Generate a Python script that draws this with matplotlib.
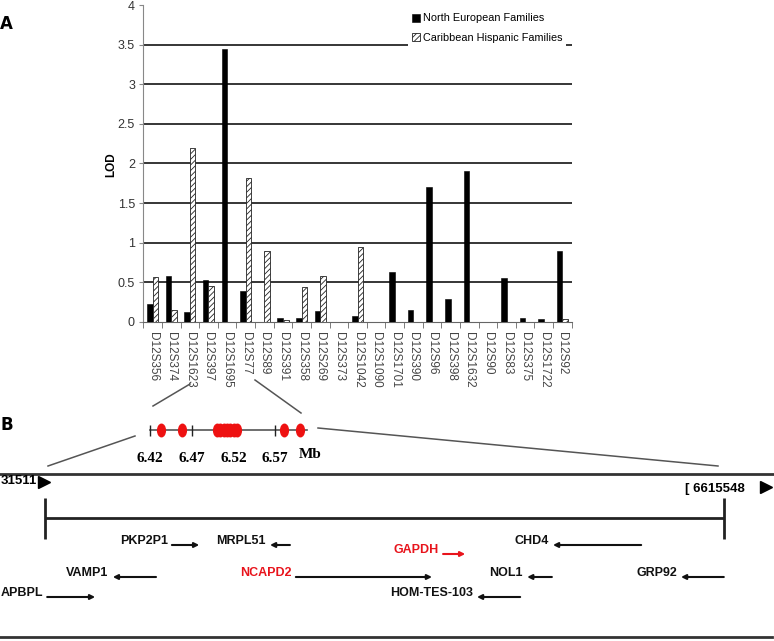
import matplotlib
matplotlib.use('Agg')
import matplotlib.pyplot as plt
import numpy as np
from matplotlib.path import Path
from matplotlib.transforms import Affine2D

# ---- panel A data: two-point LOD scores per marker ----
markers = ['D12S356', 'D12S374', 'D12S1623', 'D12S397', 'D12S1695', 'D12S77',
           'D12S89', 'D12S391', 'D12S358', 'D12S269', 'D12S373', 'D12S1042',
           'D12S1090', 'D12S1701', 'D12S390', 'D12S96', 'D12S398', 'D12S1632',
           'D12S90', 'D12S83', 'D12S375', 'D12S1722', 'D12S92']
north_european = [0.23, 0.58, 0.13, 0.53, 3.45, 0.39, 0.0, 0.05, 0.05, 0.14,
                  0.0, 0.08, 0.0, 0.63, 0.155, 1.70, 0.29, 1.91, 0.0, 0.56,
                  0.05, 0.04, 0.90]
caribbean_hispanic = [0.57, 0.155, 2.20, 0.46, 0.0, 1.82, 0.89, 0.025, 0.44, 0.58,
                      0.0, 0.95, 0.0, 0.0, 0.0, 0.0, 0.0, 0.0, 0.0, 0.0,
                      0.0, 0.0, 0.04]
y_tick_values = [0, 0.5, 1, 1.5, 2, 2.5, 3, 3.5, 4]
y_tick_labels = ['0', '0.5', '1', '1.5', '2', '2.5', '3', '3.5', '4']

# ---- panel B data: physical map (Mb) ----
map_ticks = [6.42, 6.47, 6.52, 6.57]
map_start, map_end = 6.42, 6.608
marker_pos = [6.4332, 6.4584, 6.5004, 6.5044, 6.5084, 6.5124, 6.5164, 6.5204,
              6.5244, 6.5807, 6.6005]
region_start, region_end = 6.431511, 6.615548
# the left end of the figure is cropped in the original, only these parts show
region_labels = ['31511', '[ 6615548']

gene_names = ['APBPL', 'VAMP1', 'PKP2P1', 'MRPL51', 'NCAPD2', 'GAPDH',
              'HOM-TES-103', 'NOL1', 'CHD4', 'GRP92']
gene_tail = [6.4321, 6.4616, 6.4659, 6.4979, 6.4995, 6.5394, 6.5603, 6.5689, 6.5931, 6.6155]
gene_head = [6.4451, 6.4499, 6.4733, 6.4925, 6.5364, 6.5454, 6.5486, 6.5622, 6.5692, 6.6039]
gene_lane = [3, 2, 0, 0, 2, 1, 3, 2, 0, 2]
red_labels = ['NCAPD2', 'GAPDH']
red_arrows = ['GAPDH']

W, H = 774, 641
fig = plt.figure(figsize=(W / 100, H / 100), dpi=100)
sans = ['Liberation Sans Narrow', 'Liberation Sans', 'DejaVu Sans']


def fx(px):
    return px / W


def fy(py):
    return 1 - py / H


# ---------------- panel A: bar chart ----------------
ax = fig.add_axes([fx(143.3), fy(322), fx(571.7) - fx(143.3), fy(5) - fy(322)])
x = np.arange(len(markers))
w = 0.3
plt.rcParams['hatch.linewidth'] = 0.6
ax.bar(x - w / 2, north_european, w, color='black', edgecolor='black', lw=0.4,
       label='North European Families', zorder=3)
ax.bar(x + w / 2, caribbean_hispanic, w, color='white', edgecolor='#222',
       hatch='//////', lw=0.6, label='Caribbean Hispanic Families', zorder=3)
for v in y_tick_values[1:-1]:
    ax.axhline(v, color='black', lw=1.1, zorder=1)

ax.set_xlim(-0.5, len(markers) - 0.5)
ax.set_ylim(0, 4)
for s in ['top', 'right']:
    ax.spines[s].set_visible(False)
ax.spines['left'].set_color('#888')
ax.spines['bottom'].set_color('#666')
ax.set_yticks(y_tick_values)
ax.set_yticklabels(y_tick_labels, family=sans, fontsize=9, color='#333')
ax.tick_params(axis='y', length=3, color='#888', pad=3)
ax.set_xticks(x)
ax.set_xticklabels(markers, rotation=-90, family=sans, fontsize=8.5, color='#444')
ax.tick_params(axis='x', length=0, pad=7)
ax.set_xticks(np.arange(-0.5, len(markers), 1), minor=True)
ax.tick_params(axis='x', which='minor', length=4, color='#666')
ax.set_ylabel('LOD', family=sans, fontsize=8.5, fontweight='bold')
ax.yaxis.set_label_coords(-0.061, 0.495)

leg = ax.legend(loc='upper left', bbox_to_anchor=(fx(408), fy(9)),
                bbox_transform=fig.transFigure, frameon=True, fancybox=False,
                edgecolor='none', facecolor='white', framealpha=1,
                prop={'family': sans, 'size': 7.8}, handlelength=0.75,
                handleheight=0.75, handletextpad=0.2, labelspacing=0.85,
                borderpad=0.4, borderaxespad=0)
leg.set_zorder(5)

fig.text(0, fy(24), 'A', ha='left', va='center', fontsize=12, fontweight='bold')
fig.text(0, fy(425), 'B', ha='left', va='center', fontsize=12, fontweight='bold')

# ---------------- panel B: overlay in pixel units ----------------
ov = fig.add_axes([0, 0, 1, 1])
ov.set_xlim(0, W)
ov.set_ylim(H, 0)
ov.axis('off')
connectors = [((190, 384), (153, 406)), ((255, 380), (301, 413)),
              ((135, 436), (48, 466)), ((318, 428), (718, 466))]
for (x0, y0), (x1, y1) in connectors:
    ov.plot([x0, x1], [y0, y1], color='#555', lw=1.1)
ov.plot([0, W], [473.5, 473.5], color='#333', lw=2)
ov.plot([0, 772], [637, 637], color='#333', lw=2)
gene_font = dict(family=sans, fontweight='bold')
ov.text(1, 481, region_labels[0], ha='left', va='center', fontsize=9.5, **gene_font)
ov.plot([44], [482], marker='>', ms=8, color='black', ls='none')
ov.text(715, 489, region_labels[1], ha='center', va='center', fontsize=9.5, **gene_font)
ov.plot([766], [487], marker='>', ms=8, color='black', ls='none')

# mini physical map (Mb scale)
mm = fig.add_axes([0, 0, 1, 1])
px_per_mb = 125 / 0.15
mm.set_xlim(6.42 - 150 / px_per_mb, 6.42 + (W - 150) / px_per_mb)
mm.set_ylim(H, 0)
mm.axis('off')
mm.plot([map_start, map_end], [430, 430], color='#555', lw=1.2, zorder=1)
mm.vlines(map_ticks, 425, 436, color='#222', lw=1, zorder=1)
ellipse = Path.unit_circle().transformed(Affine2D().scale(0.62, 1))
mm.plot(marker_pos, [430] * len(marker_pos), ls='none', marker=ellipse, ms=9,
        color='#ee1111', zorder=2)
serif = ['Liberation Serif', 'DejaVu Serif']
for t in map_ticks:
    mm.text(t, 458, f'{t:.2f}', ha='center', va='center', fontsize=11,
            family=serif, fontweight='bold')
mm.text(map_end + 0.004, 455, 'Mb', ha='center', va='center', fontsize=11,
        family=serif, fontweight='bold')

# gene map (genomic scale)
gx = fig.add_axes([0, 0, 1, 1])
gpx = (724 - 45) / (region_end - region_start)
gx.set_xlim(region_start - 45 / gpx, region_start + (W - 45) / gpx)
gx.set_ylim(H, 0)
gx.axis('off')
gx.hlines(518, region_start, region_end, color='#222', lw=2)
gx.vlines([region_start, region_end], 498, 539, color='#222', lw=2)
lane_y = {0: 545, 1: 554, 2: 577, 3: 597}
for name, t0, t1, lane in zip(gene_names, gene_tail, gene_head, gene_lane):
    tc = '#e8141c' if name in red_labels else '#111'
    ac = '#e8141c' if name in red_arrows else '#111'
    y = lane_y[lane]
    gx.annotate('', xy=(t1, y), xytext=(t0, y),
                arrowprops=dict(arrowstyle='-|>', color=ac, lw=1.5,
                                mutation_scale=7, shrinkA=0, shrinkB=0))
    gx.annotate(name, xy=(min(t0, t1), y), xytext=(-3, 3), textcoords='offset points',
                ha='right', va='center', fontsize=9, color=tc, **gene_font)

fig.savefig('out.png', dpi=100)
